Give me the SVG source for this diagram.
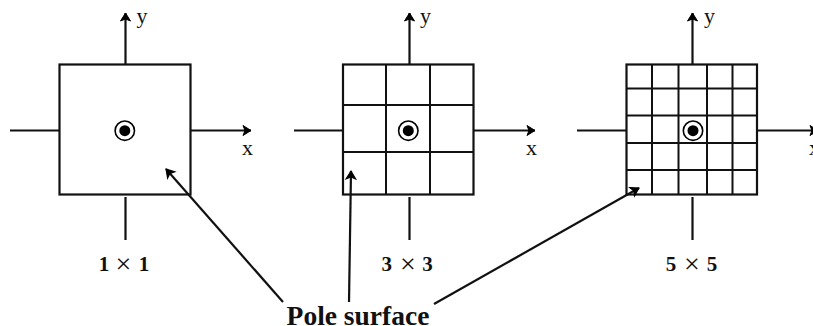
<svg xmlns="http://www.w3.org/2000/svg" width="813" height="326" viewBox="0 0 813 326">
<defs>
<marker id="a" markerUnits="userSpaceOnUse" markerWidth="14" markerHeight="14" refX="10.5" refY="6" orient="auto" overflow="visible"><path d="M2.500 1L10.500 6L2.500 11L4.500 6Z" fill="#000" stroke="#000" stroke-width="1"/></marker>
<g id="bull"><circle r="9.700" fill="#fff" stroke="#000" stroke-width="1.600"/><circle r="5.500" fill="#000"/></g>
</defs>
<style>
.l{stroke:#111;stroke-width:2.200;fill:none}
.g{stroke:#111;stroke-width:2;fill:none}
.ar{marker-end:url(#a)}
text{font-family:"Liberation Serif","Times New Roman",serif;fill:#111}
.ax{font-size:22px}
.t{font-size:21px;font-weight:bold;text-anchor:middle}
.m{font-size:28px;font-weight:normal}
.p{font-size:27.500px;font-weight:bold;text-anchor:middle}
</style>
<rect width="813" height="326" fill="#fff"/>
<g id="node-1x1">
<rect class="l" x="59.500" y="64.500" width="131" height="130"/>
<use href="#bull" x="124.800" y="130.700"/>
<text class="ax" x="136.500" y="23">y</text>
<text class="ax" x="242" y="155">x</text>
<text class="t" y="270.500"><tspan x="104">1</tspan><tspan class="m" x="123.500" y="272.500">×</tspan><tspan x="144" y="270.500">1</tspan></text>
</g>
<g id="node-3x3">
<rect class="l" x="343" y="64.500" width="130.500" height="130"/>
<path class="g" d="M386 64V194M430 64V194M343 105H473M343 152H473"/>
<use href="#bull" x="408.300" y="130.700"/>
<text class="ax" x="420" y="23">y</text>
<text class="ax" x="526" y="155">x</text>
<text class="t" y="270.500"><tspan x="386.700">3</tspan><tspan class="m" x="408" y="272.500">×</tspan><tspan x="427.500" y="270.500">3</tspan></text>
</g>
<g id="node-5x5">
<rect class="l" x="626.500" y="64.500" width="130.500" height="130"/>
<path class="g" d="M652 64V194M678.500 64V194M707 64V194M732.500 64V194M626 88.500H757M626 115.500H757M626 143H757M626 170H757"/>
<use href="#bull" x="693" y="130.700"/>
<text class="ax" x="704" y="23">y</text>
<text class="ax" x="809" y="155">x</text>
<text class="t" y="270.500"><tspan x="671">5</tspan><tspan class="m" x="692" y="272.500">×</tspan><tspan x="712" y="270.500">5</tspan></text>
</g>
<g id="connectors">
<path class="l ar" d="M125.500 64V13"/><path class="l" d="M125.500 197V240M10 130.500H60"/><path class="l ar" d="M190 130.500H251"/>
<path class="l ar" d="M409.500 64V13"/><path class="l" d="M409.500 197V240M294 130.500H343"/><path class="l ar" d="M473 130.500H535"/>
<path class="l ar" d="M692.500 64V13"/><path class="l" d="M692.500 197V240M577 130.500H626"/><path class="l ar" d="M757 130.500H818"/>
<path class="l ar" d="M283 302L166 169"/>
<path class="l ar" d="M349 302L351 171"/>
<path class="l ar" d="M434 304L639 188"/>
</g>
<g id="node-label"><text class="p" x="358" y="325">Pole surface</text></g>
</svg>
